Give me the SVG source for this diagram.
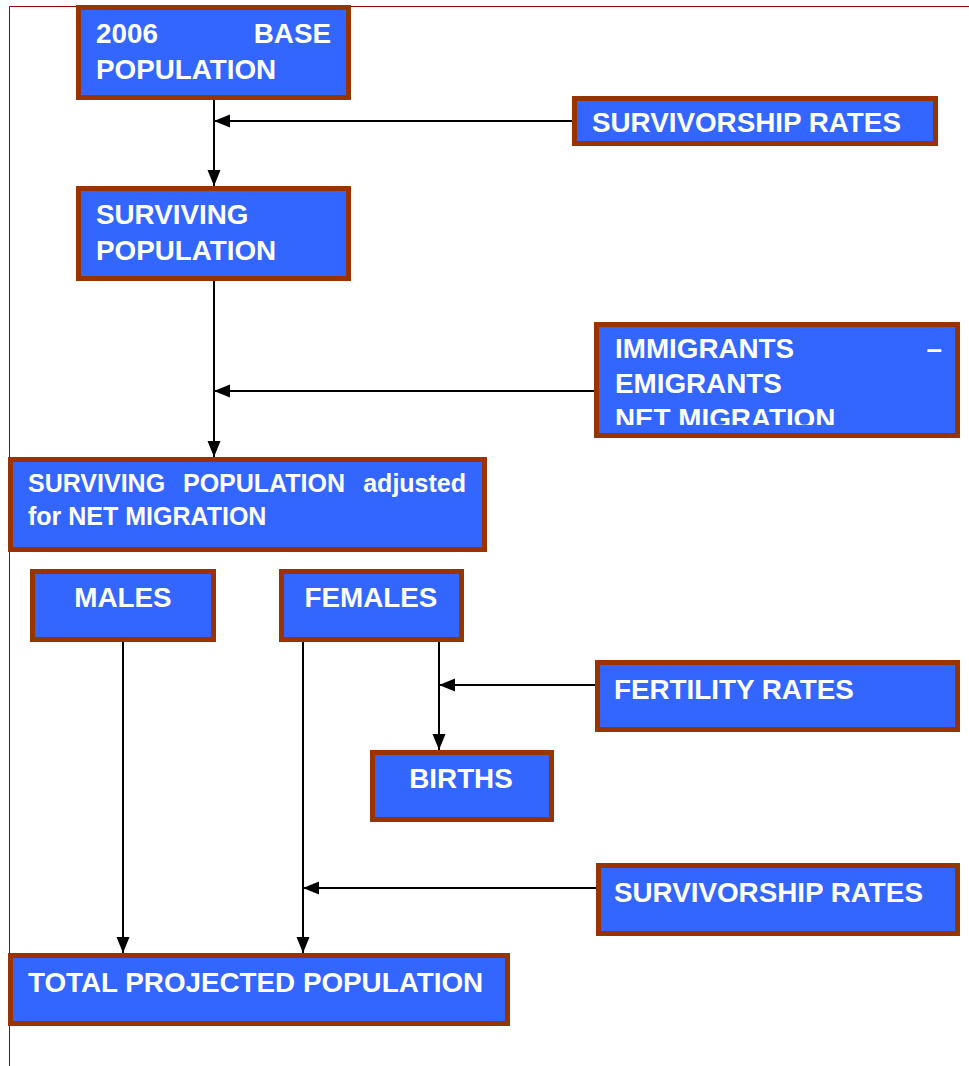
<svg xmlns="http://www.w3.org/2000/svg" width="969" height="1066" viewBox="0 0 969 1066">
<style>
.box{fill:#3366FF;stroke:#993300;stroke-width:5}
.t{font-family:"Liberation Sans",Arial,Helvetica,sans-serif;font-weight:bold;font-size:27.8px;fill:#FFFFFF}
.s{font-size:25px}
.c{text-anchor:middle}
.e{text-anchor:end}
.ln{stroke:#000000;stroke-width:2;fill:none}
.pg{stroke:#990000;stroke-width:1;fill:none}
</style>
<defs>
<marker id="ah" markerUnits="userSpaceOnUse" markerWidth="17" markerHeight="14" refX="16" refY="6.5" orient="auto">
<path d="M0,0 L16,6.5 L0,13 z" fill="#000000"/>
</marker>
<clipPath id="clipImm"><rect x="599" y="327" width="356" height="98"/></clipPath>
</defs>
<g id="page">
<path class="pg" d="M9.5,1066 L9.5,6.5 L969,6.5"/>
</g>
<g id="connectors">
<path class="ln" d="M214,100 L214,186" marker-end="url(#ah)"/>
<path class="ln" d="M572,121 L214,121" marker-end="url(#ah)"/>
<path class="ln" d="M214,281 L214,457" marker-end="url(#ah)"/>
<path class="ln" d="M594,391 L214,391" marker-end="url(#ah)"/>
<path class="ln" d="M123,642 L123,953" marker-end="url(#ah)"/>
<path class="ln" d="M303,642 L303,953" marker-end="url(#ah)"/>
<path class="ln" d="M439,642 L439,750" marker-end="url(#ah)"/>
<path class="ln" d="M595,685 L439,685" marker-end="url(#ah)"/>
<path class="ln" d="M596,888 L303,888" marker-end="url(#ah)"/>
</g>
<g id="base">
<rect class="box" x="78.5" y="7.5" width="270" height="90"/>
<text class="t" x="96" y="43">2006</text>
<text class="t e" x="331" y="43">BASE</text>
<text class="t" x="96" y="79">POPULATION</text>
</g>
<g id="surv-rates-1">
<rect class="box" x="574.5" y="98.5" width="361" height="45"/>
<text class="t" x="592" y="132">SURVIVORSHIP RATES</text>
</g>
<g id="surviving">
<rect class="box" x="78.5" y="188.5" width="270" height="90"/>
<text class="t" x="96" y="224">SURVIVING</text>
<text class="t" x="96" y="260">POPULATION</text>
</g>
<g id="migration">
<rect class="box" x="596.5" y="324.5" width="361" height="111"/>
<g clip-path="url(#clipImm)">
<text class="t" x="615" y="358">IMMIGRANTS</text>
<text class="t e" x="942" y="358">–</text>
<text class="t" x="615" y="393">EMIGRANTS</text>
<text class="t" x="615" y="428">NET MIGRATION</text>
</g>
</g>
<g id="adjusted">
<rect class="box" x="10.5" y="459.5" width="474" height="90"/>
<text class="t s" x="28" y="492">SURVIVING</text>
<text class="t s" x="183" y="492">POPULATION</text>
<text class="t s e" x="466" y="492">adjusted</text>
<text class="t s" x="28" y="525">for NET MIGRATION</text>
</g>
<g id="males">
<rect class="box" x="32.5" y="571.5" width="181" height="68"/>
<text class="t c" x="123" y="607">MALES</text>
</g>
<g id="females">
<rect class="box" x="281.5" y="571.5" width="180" height="68"/>
<text class="t c" x="371" y="607">FEMALES</text>
</g>
<g id="fertility">
<rect class="box" x="597.5" y="662.5" width="360" height="67"/>
<text class="t" x="614" y="699">FERTILITY RATES</text>
</g>
<g id="births">
<rect class="box" x="372.5" y="752.5" width="179" height="67"/>
<text class="t c" x="461" y="788">BIRTHS</text>
</g>
<g id="surv-rates-2">
<rect class="box" x="598.5" y="865.5" width="359" height="68"/>
<text class="t" x="614" y="902">SURVIVORSHIP RATES</text>
</g>
<g id="total">
<rect class="box" x="10.5" y="955.5" width="497" height="68"/>
<text class="t" x="28" y="992">TOTAL PROJECTED POPULATION</text>
</g>
</svg>
